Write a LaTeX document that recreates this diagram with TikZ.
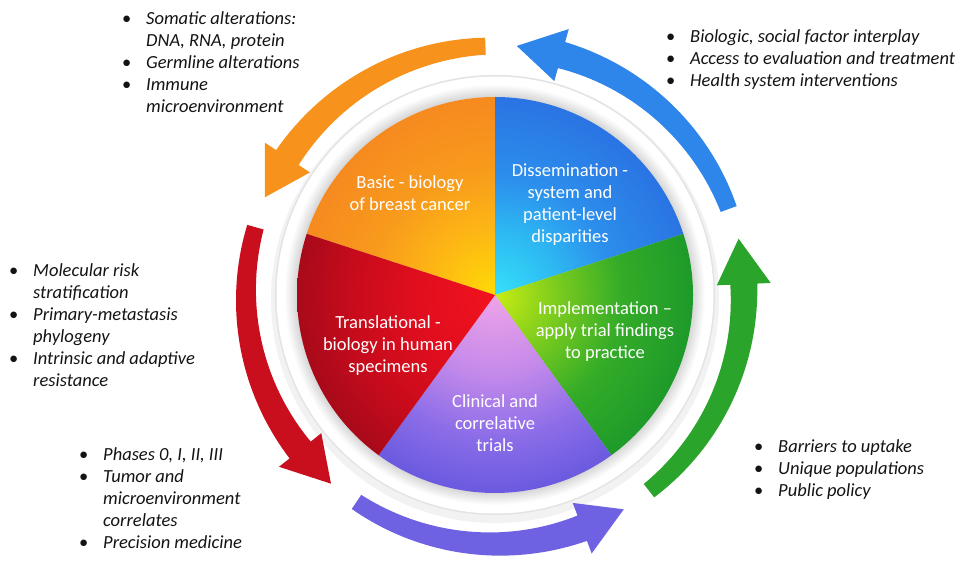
\documentclass[tikz,border=0pt]{standalone}
\usepackage{fontspec}
\setmainfont{Carlito}
\usepackage{array}

% arrow colours
\definecolor{arrOrange}{HTML}{F7931D}
\definecolor{arrBlue}{HTML}{2E86EA}
\definecolor{arrRed}{HTML}{C90F1D}
\definecolor{arrGreen}{HTML}{2BA42B}
\definecolor{arrPurple}{HTML}{6F62E2}

% slice colours, centre to rim
\definecolor{orA}{HTML}{FFDA05}\definecolor{orB}{HTML}{FDB814}\definecolor{orC}{HTML}{F89A1C}\definecolor{orD}{HTML}{F68A1F}
\definecolor{blA}{HTML}{36E0FA}\definecolor{blB}{HTML}{2DB9F2}\definecolor{blC}{HTML}{2C8EEC}\definecolor{blD}{HTML}{2A74E3}
\definecolor{grA}{HTML}{C8EC14}\definecolor{grB}{HTML}{7ACB1E}\definecolor{grC}{HTML}{34AC28}\definecolor{grD}{HTML}{1E9A2A}
\definecolor{puA}{HTML}{EFA3E8}\definecolor{puB}{HTML}{C48AEA}\definecolor{puC}{HTML}{8C6DE8}\definecolor{puD}{HTML}{6A5ADF}
\definecolor{reA}{HTML}{F2121E}\definecolor{reB}{HTML}{E00E1E}\definecolor{reC}{HTML}{C80B1C}\definecolor{reD}{HTML}{A80A1A}

\pgfdeclareradialshading{basicshade}{\pgfpoint{0bp}{0bp}}{color(0bp)=(orA); color(8bp)=(orB); color(16bp)=(orC); color(25bp)=(orD); color(50bp)=(orD)}
\pgfdeclareradialshading{dissshade}{\pgfpoint{0bp}{0bp}}{color(0bp)=(blA); color(8bp)=(blB); color(15bp)=(blC); color(25bp)=(blD); color(50bp)=(blD)}
\pgfdeclareradialshading{implshade}{\pgfpoint{0bp}{0bp}}{color(0bp)=(grA); color(8bp)=(grB); color(16bp)=(grC); color(25bp)=(grD); color(50bp)=(grD)}
\pgfdeclareradialshading{clinshade}{\pgfpoint{0bp}{0bp}}{color(0bp)=(puA); color(10bp)=(puB); color(18bp)=(puC); color(25bp)=(puD); color(50bp)=(puD)}
\pgfdeclareradialshading{transshade}{\pgfpoint{0bp}{0bp}}{color(0bp)=(reA); color(10bp)=(reB); color(18bp)=(reC); color(25bp)=(reD); color(50bp)=(reD)}

% one wedge of the wheel: start angle, end angle, shading
\newcommand\pieslice[3]{%
  \begin{scope}
    \clip (0,0) -- (#1:198) arc[start angle=#1, end angle=#2, radius=198] -- cycle;
    \shade[shading=#3] (0,0) circle (198);
  \end{scope}}

% tapered curved arrow running counter-clockwise from a wedge border
\newcommand\cyclearrow[2]{%
  \pgfmathsetmacro\arrTail{#2+2.2}%
  \pgfmathsetmacro\arrBase{#2+56.5}%
  \pgfmathsetmacro\arrTip{#2+67}%
  \fill[#1] plot[domain=\arrTail:\arrBase, samples=40]
      (\x:{257.5+5*(\x-\arrTail)/(\arrBase-\arrTail)})
    -- (\arrBase:276) -- (\arrTip:250) -- (\arrBase:222)
    -- plot[domain=\arrBase:\arrTail, samples=40]
      (\x:{240.5-5*(\x-\arrTail)/(\arrBase-\arrTail)}) -- cycle;}

\newcommand\bitem{\makebox[24pt][l]{\upshape •}}

\begin{document}
\begin{tikzpicture}[x=1pt, y=1pt,
  slicetext/.style={text=white, align=center, inner sep=0pt,
    font=\fontsize{18.5}{22}\selectfont},
  notes/.style={anchor=base west, inner sep=0pt, text=black!92,
    font=\fontsize{18.5}{22}\selectfont\itshape}]
\useasboundingbox (0,0) rectangle (966,562);
\fill[white] (0,0) rectangle (966,562);

\begin{scope}[shift={(495,267)}]
  % soft shadow and white rim around the wheel
  \fill[gray!10] (0,-4) circle (224);
  \fill[gray!22] (0,0) circle (220);
  \fill[white] (0,0) circle (218.5);
  \foreach \i in {0,...,11} {
    \pgfmathsetmacro\shadeamt{2+2.6*\i}
    \fill[gray!\shadeamt] (0,0) circle ({210-\i});
  }

  % wedges
  \pieslice{90}{162}{basicshade}
  \pieslice{18}{90}{dissshade}
  \pieslice{-54}{18}{implshade}
  \pieslice{-126}{-54}{clinshade}
  \pieslice{162}{234}{transshade}

  % cycle arrows
  \cyclearrow{arrOrange}{90}
  \cyclearrow{arrBlue}{18}
  \cyclearrow{arrRed}{162}
  \cyclearrow{arrGreen}{-54}
  \cyclearrow{arrPurple}{-126}
\end{scope}

% wedge labels
\node[slicetext] (basic) at (410,369) {Basic - biology\\of breast cancer};
\node[slicetext] (diss) at (570,357.5) {Dissemination -\\system and\\patient-level\\disparities};
\node[slicetext] (impl) at (605,230) {Implementation –\\apply trial findings\\to practice};
\node[slicetext] (trans) at (388,216) {Translational -\\biology in human\\specimens};
\node[slicetext] (clin) at (495,139) {Clinical and\\correlative\\trials};

% bullet notes
\node[notes] (notesBasic) at (122,537) {\begin{tabular}[t]{@{}l@{}l@{}}
  \bitem & Somatic alterations:\\
         & DNA, RNA, protein\\
  \bitem & Germline alterations\\
  \bitem & Immune\\
         & microenvironment
\end{tabular}};
\node[notes] (notesDiss) at (666,519) {\begin{tabular}[t]{@{}l@{}l@{}}
  \bitem & Biologic, social factor interplay\\
  \bitem & Access to evaluation and treatment\\
  \bitem & Health system interventions
\end{tabular}};
\node[notes] (notesTrans) at (9,285) {\begin{tabular}[t]{@{}l@{}l@{}}
  \bitem & Molecular risk\\
         & stratification\\
  \bitem & Primary-metastasis\\
         & phylogeny\\
  \bitem & Intrinsic and adaptive\\
         & resistance
\end{tabular}};
\node[notes] (notesClin) at (79,101) {\begin{tabular}[t]{@{}l@{}l@{}}
  \bitem & Phases 0, I, II, III\\
  \bitem & Tumor and\\
         & microenvironment\\
         & correlates\\
  \bitem & Precision medicine
\end{tabular}};
\node[notes] (notesImpl) at (754,109) {\begin{tabular}[t]{@{}l@{}l@{}}
  \bitem & Barriers to uptake\\
  \bitem & Unique populations\\
  \bitem & Public policy
\end{tabular}};
\end{tikzpicture}
\end{document}
